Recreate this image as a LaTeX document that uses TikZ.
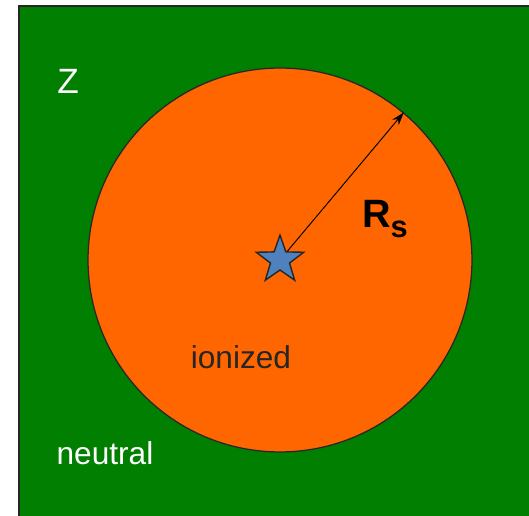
\documentclass[tikz,border=0pt]{standalone}
\usepackage{fontspec}
\setmainfont{Liberation Sans}
\usetikzlibrary{shapes.geometric,arrows.meta}
\definecolor{medgreen}{HTML}{007F00}
\definecolor{ionorange}{HTML}{FF6600}
\definecolor{starblue}{HTML}{4F81BD}
\begin{document}
\begin{tikzpicture}[
  x=0.02cm,y=-0.02cm,
  every node/.style={inner sep=0pt},
  region/.style={draw=black!85,line width=0.7pt},
  sphere/.style={circle,draw=black!85,line width=0.7pt,fill=ionorange,
                 minimum size=7.68cm},
  source/.style={star,star points=5,star point ratio=2.5,draw=black!85,
                 line width=0.8pt,fill=starblue,minimum size=1.0cm},
  wlabel/.style={text=white,font=\fontsize{18}{20}\selectfont},
  radius/.style={-{Stealth[length=2.6mm,width=1.7mm]},line width=0.55pt,draw=black}
]
\useasboundingbox (0,0) rectangle (529,516);
\clip (0,0) rectangle (529,516);

%% ---- neutral medium ----
\draw[region,fill=medgreen] (19,6) rectangle (545,530);

%% ---- ionized sphere ----
\node[sphere] (stromgren) at (280,260) {};
\coordinate (center) at (280,260);

%% ---- radius ----
\draw[radius] (center) -- (stromgren.50);
\node[source] (src) at (center) {};

%% ---- labels ----
\node[wlabel,font=\fontsize{20}{24}\selectfont] (zlab) at (68,81) {Z};
\node[font=\bfseries\fontsize{22.5}{26}\selectfont] (rs) at (385,219)
    {R\raisebox{-5.7pt}{\fontsize{17.5}{18}\selectfont s}};
\node[font=\fontsize{18}{20}\selectfont,text=black!85] (ion) at (241,357) {ionized};
\node[wlabel] (neu) at (105,453) {neutral};

\end{tikzpicture}
\end{document}
